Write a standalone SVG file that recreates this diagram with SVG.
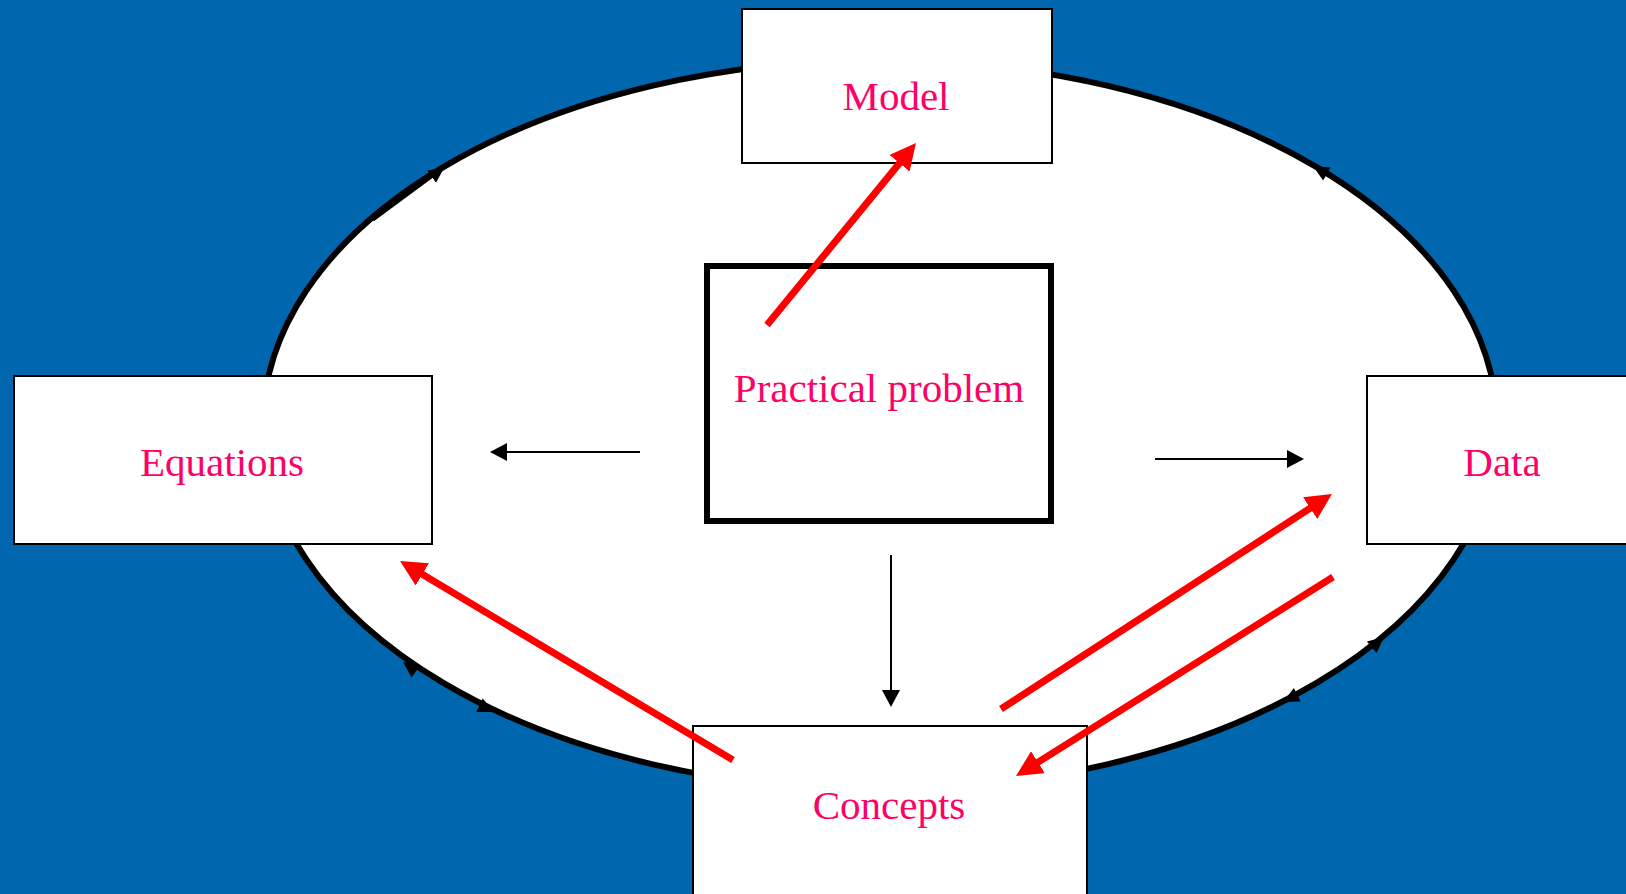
<svg xmlns="http://www.w3.org/2000/svg" width="1626" height="894" viewBox="0 0 1626 894">
<style>
.box{fill:#ffffff;stroke:#000000;stroke-width:2}
.lbl{font-family:"Liberation Serif","Times New Roman",serif;font-size:41px;fill:#ff0066;text-anchor:middle}
.red{stroke:#ff0000;stroke-width:7;fill:none}
.blk{stroke:#000000;stroke-width:2;fill:none}
</style>
<defs>
<marker id="redHead" markerUnits="userSpaceOnUse" markerWidth="28" markerHeight="28" viewBox="0 0 28 28" refX="6" refY="13" orient="auto">
<path d="M0,0 L26,13 L0,26 z" fill="#ff0000"/>
</marker>
<marker id="blkHead" markerUnits="userSpaceOnUse" markerWidth="20" markerHeight="20" viewBox="0 0 20 20" refX="7" refY="9" orient="auto">
<path d="M0,0 L17,9 L0,18 z" fill="#000000"/>
</marker>
<marker id="smallHead" markerUnits="userSpaceOnUse" markerWidth="18" markerHeight="18" viewBox="0 0 18 18" refX="8" refY="7.5" orient="auto">
<path d="M0,0 L16,7.5 L0,15 z" fill="#000000"/>
</marker>
<path id="eh" d="M0,0 L-16,-7.5 L-16,7.5 z" fill="#000000"/>
</defs>
<rect x="0" y="0" width="1626" height="894" fill="#0066ae"/>
<g id="cycle">
<ellipse cx="880" cy="425" rx="617" ry="365" fill="#ffffff" stroke="#000000" stroke-width="6"/>
<line x1="373" y1="220" x2="438" y2="172" stroke="#000000" stroke-width="3" marker-end="url(#smallHead)"/>
<use href="#eh" transform="translate(1313,166) rotate(-150)"/>
<use href="#eh" transform="translate(403,662) rotate(-144)"/>
<use href="#eh" transform="translate(494,712) rotate(25)"/>
<use href="#eh" transform="translate(1384,637) rotate(-40)"/>
<use href="#eh" transform="translate(1283,702) rotate(153)"/>
</g>
<g id="model">
<rect class="box" x="742" y="9" width="310" height="154"/>
<text class="lbl" x="896" y="110">Model</text>
</g>
<g id="equations">
<rect class="box" x="14" y="376" width="418" height="168"/>
<text class="lbl" x="222" y="476">Equations</text>
</g>
<g id="data">
<rect class="box" x="1367" y="376" width="270" height="168"/>
<text class="lbl" x="1502" y="476">Data</text>
</g>
<g id="concepts">
<rect class="box" x="693" y="726" width="394" height="180"/>
<text class="lbl" x="889" y="819">Concepts</text>
</g>
<g id="practical-problem">
<rect x="707" y="266" width="344" height="255" fill="#ffffff" stroke="#000000" stroke-width="6"/>
<text class="lbl" x="879" y="402">Practical problem</text>
</g>
<g id="connectors">
<line class="blk" x1="640" y1="452" x2="500" y2="452" marker-end="url(#blkHead)"/>
<line class="blk" x1="1155" y1="459" x2="1294" y2="459" marker-end="url(#blkHead)"/>
<line class="blk" x1="891" y1="555" x2="891" y2="697" marker-end="url(#blkHead)"/>
<line class="red" x1="767" y1="325" x2="903.3" y2="158.5" marker-end="url(#redHead)"/>
<line class="red" x1="733" y1="760" x2="417.2" y2="571.3" marker-end="url(#redHead)"/>
<line class="red" x1="1001" y1="709" x2="1315.2" y2="504.9" marker-end="url(#redHead)"/>
<line class="red" x1="1333" y1="577" x2="1032.9" y2="765.4" marker-end="url(#redHead)"/>
</g>
</svg>
